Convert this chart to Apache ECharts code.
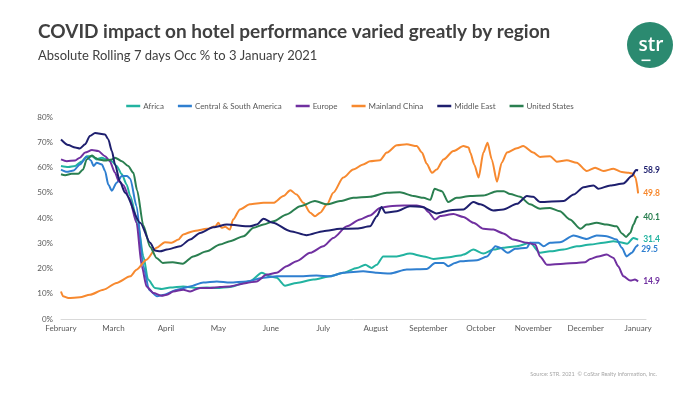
<!DOCTYPE html>
<html>
<head>
<meta charset="utf-8">
<script src="https://cdn.jsdelivr.net/npm/echarts@6/dist/echarts.min.js"></script>
<style>
html,body{margin:0;padding:0;background:#fff;}
#chart{width:700px;height:394px;}
</style>
</head>
<body>
<div id="chart"></div>
<script>
// x = months since 1 February 2020 (0 = February, 11 = January)
const months = ["February","March","April","May","June","July","August","September","October","November","December","January"];
const yTicks = [0,10,20,30,40,50,60,70,80];
const seriesNames = ["Africa","Central & South America","Europe","Mainland China","Middle East","United States"];

const africa = [[0,60.6],[0.14,60.2],[0.27,60.6],[0.4,62.5],[0.49,64.5],[0.59,64.5],[0.68,63.2],[0.78,63.9],[0.87,63.2],[0.97,62.5],[1.06,60.6],[1.16,57.3],[1.25,53.3],[1.32,48.7],[1.47,37],[1.57,24.8],[1.66,15.6],[1.79,12.3],[1.92,11.9],[2.08,12.5],[2.33,12.9],[2.59,12.3],[2.78,12.5],[2.97,12.3],[3.22,12.7],[3.6,15.0],[3.83,18.3],[3.98,16.9],[4.11,16.3],[4.27,13.2],[4.49,14.3],[4.81,15.6],[5.13,16.9],[5.38,18.3],[5.64,20.2],[5.8,21.5],[5.92,20.2],[6.02,21.5],[6.14,24.8],[6.4,24.8],[6.65,25.9],[6.91,24.8],[7.1,23.8],[7.35,24.4],[7.61,25.1],[7.67,25.5],[7.86,27.5],[8.05,25.9],[8.24,27.5],[8.43,28.2],[8.69,28.8],[8.94,30.2],[9.13,26.2],[9.32,26.8],[9.58,27.5],[9.83,28.8],[10.09,29.5],[10.34,30.2],[10.53,30.8],[10.66,30.4],[10.79,29.8],[10.91,32.1],[11.0,31.4]];

const csAmerica = [[0,59.2],[0.11,58.3],[0.24,58.8],[0.36,61.2],[0.49,64.2],[0.57,62.8],[0.62,60.6],[0.68,61.9],[0.78,61.2],[0.84,58.6],[0.9,53.3],[0.97,50.8],[1.06,54.0],[1.16,56.6],[1.26,56.6],[1.32,55.5],[1.44,44.7],[1.57,20.9],[1.68,11.5],[1.83,9.0],[1.97,9.6],[2.21,11.6],[2.46,12.9],[2.71,14.5],[2.97,14.9],[3.22,14.5],[3.54,14.9],[3.86,16.3],[4.11,16.9],[4.49,16.9],[4.87,17.2],[5.13,16.9],[5.38,18.3],[5.76,18.9],[6.02,18.3],[6.27,18.0],[6.59,19.6],[6.97,19.8],[7.13,22.2],[7.29,22.2],[7.38,20.9],[7.51,22.2],[7.61,22.9],[7.93,23.3],[8.12,24.8],[8.28,28.8],[8.37,28.2],[8.51,26.2],[8.66,27.8],[8.88,28.2],[8.94,30.2],[9.1,30.2],[9.2,28.8],[9.32,30.2],[9.51,30.4],[9.77,33.1],[10.02,31.7],[10.21,33.1],[10.4,32.8],[10.59,31.5],[10.69,28.2],[10.78,24.8],[10.88,26.2],[10.97,28.8],[11.0,29.5]];

const europe = [[0,63.2],[0.11,62.5],[0.27,62.8],[0.36,63.9],[0.46,65.9],[0.59,66.9],[0.71,66.5],[0.84,64.5],[0.93,62.5],[1.03,57.9],[1.1,54.6],[1.19,53.0],[1.3,48],[1.44,38.1],[1.54,20.9],[1.63,12.9],[1.76,10.3],[1.92,9.2],[2.02,9.6],[2.14,10.9],[2.33,11.6],[2.46,10.9],[2.65,12.3],[2.84,12.3],[3.03,12.7],[3.22,12.9],[3.54,14.3],[3.73,14.9],[3.92,17.6],[4.11,18.3],[4.3,20.9],[4.49,22.9],[4.75,26.2],[5.0,28.8],[5.19,32.1],[5.45,36.7],[5.7,39.4],[5.89,41.0],[6.08,44.0],[6.27,44.7],[6.53,45.0],[6.78,45.0],[6.91,44.4],[7.0,42.4],[7.13,39.4],[7.23,40.8],[7.48,41.6],[7.67,40.4],[7.86,38.1],[8.05,35.7],[8.24,35.4],[8.43,33.9],[8.62,31.5],[8.88,30.2],[9.04,29.5],[9.13,24.8],[9.26,21.5],[9.58,21.9],[9.83,22.2],[9.99,22.5],[10.09,23.8],[10.24,24.8],[10.4,25.5],[10.53,24.2],[10.62,20.9],[10.72,16.9],[10.85,15.2],[10.94,15.6],[11.0,14.9]];

const china = [[0,10.9],[0.04,9.0],[0.14,8.3],[0.36,8.6],[0.55,9.6],[0.81,11.6],[1.06,14.3],[1.32,16.9],[1.44,19.5],[1.63,23.5],[1.82,28.2],[1.98,30.4],[2.11,30.2],[2.24,31.5],[2.33,33.5],[2.52,34.8],[2.78,35.7],[2.94,36.7],[3.0,38.1],[3.06,36.1],[3.13,36.5],[3.22,35.4],[3.28,39.4],[3.41,43.4],[3.6,45.4],[3.86,46.0],[4.05,46.0],[4.24,48.7],[4.37,51.0],[4.49,49.3],[4.62,46.0],[4.75,42.1],[4.84,40.7],[4.94,42.1],[5.07,45.4],[5.19,50.0],[5.38,56.0],[5.57,59.2],[5.76,61.2],[5.89,62.5],[6.08,62.9],[6.21,65.9],[6.4,68.8],[6.59,69.2],[6.78,68.5],[6.88,65.9],[6.97,61.5],[7.07,57.9],[7.16,59.2],[7.29,63.2],[7.48,66.5],[7.67,68.5],[7.77,67.9],[7.8,65.9],[7.88,61.0],[7.96,56.0],[8.05,65.9],[8.13,69.8],[8.21,63.2],[8.31,54.4],[8.4,61.9],[8.5,65.9],[8.69,67.6],[8.81,68.5],[9.0,65.9],[9.13,64.2],[9.32,64.5],[9.45,62.3],[9.64,62.9],[9.83,61.9],[10.02,58.6],[10.18,59.9],[10.34,58.6],[10.53,59.5],[10.69,58.2],[10.82,57.9],[10.9,57.6],[10.95,56.0],[11.0,49.8]];

const middleEast = [[0,71.1],[0.14,68.9],[0.27,67.9],[0.36,67.5],[0.46,69.2],[0.55,72.5],[0.65,73.7],[0.84,73.1],[0.9,71.2],[0.97,66.5],[1.03,61.2],[1.12,54.6],[1.22,50.0],[1.51,38.1],[1.7,30.2],[1.79,27.1],[1.89,26.8],[2.02,27.5],[2.27,28.8],[2.46,31.5],[2.65,34.1],[2.9,36.3],[3.16,37.4],[3.6,36.7],[3.73,37.4],[3.86,39.7],[4.04,38.1],[4.37,34.8],[4.68,33.2],[5.0,34.8],[5.32,35.7],[5.64,35.8],[5.89,36.7],[6.02,40.7],[6.11,44.4],[6.18,42.1],[6.4,42.7],[6.65,44.7],[6.88,44.4],[7.16,41.8],[7.42,43.1],[7.67,43.4],[7.86,46.3],[7.99,45.4],[8.24,43.0],[8.43,43.4],[8.69,45.6],[8.88,48.7],[9.0,48.4],[9.13,46.3],[9.58,46.7],[9.77,49.3],[9.96,52.2],[10.15,52.9],[10.24,51.6],[10.47,52.9],[10.72,53.7],[10.88,56.6],[10.96,59.0],[11.0,58.9]];

const usa = [[0,57.3],[0.08,56.9],[0.2,57.5],[0.33,57.5],[0.42,59.2],[0.49,63.2],[0.59,64.8],[0.65,63.9],[0.71,63.2],[0.84,62.8],[0.97,63.2],[1.03,63.9],[1.16,62.5],[1.28,60.6],[1.38,57.9],[1.45,51.0],[1.57,37.0],[1.7,28.5],[1.82,24.2],[1.94,22.2],[2.13,22.5],[2.32,21.9],[2.52,24.8],[2.78,26.8],[3.03,29.5],[3.22,30.8],[3.48,32.8],[3.67,36.1],[3.86,37.4],[4.05,38.7],[4.3,41.4],[4.56,44.7],[4.84,46.7],[5.07,45.4],[5.32,46.7],[5.57,48.0],[5.89,48.4],[6.21,50.0],[6.46,50.2],[6.72,48.7],[6.91,48.0],[7.04,47.2],[7.12,51.6],[7.2,51.0],[7.26,50.6],[7.38,46.3],[7.54,48.0],[7.8,48.7],[8.05,48.9],[8.31,50.6],[8.44,50.6],[8.56,49.5],[8.75,48.4],[8.94,45.4],[9.13,43.7],[9.32,44.0],[9.51,42.7],[9.7,39.4],[9.9,35.7],[10.02,37.4],[10.21,38.1],[10.4,37.4],[10.59,36.7],[10.69,33.9],[10.77,32.5],[10.85,34.1],[10.91,37.4],[10.98,40.5],[11.0,40.1]];

const seriesData = [africa, csAmerica, europe, china, middleEast, usa];
const colors = ["#22b3a0","#2f7fd0","#7030a0","#f7892f","#1e1f6e","#2a7f50"];
const FONT = "Lato, 'Liberation Sans', sans-serif";

const chart = echarts.init(document.getElementById('chart'), null, {renderer:'canvas'});
const option = {
  animation: false,
  backgroundColor: '#ffffff',
  color: colors,
  textStyle: {fontFamily: FONT},
  grid: {left: 61, right: 54, top: 117, bottom: 75, containLabel: false},
  legend: {
    top: 97, left: 'center',
    itemWidth: 14, itemHeight: 2.5, itemGap: 14,
    icon: 'rect',
    textStyle: {fontSize: 8, color: '#595959', fontFamily: FONT, padding: [0,0,0,-2]},
    data: seriesNames
  },
  xAxis: {
    type: 'value', min: 0, max: 11.15, interval: 1,
    axisLine: {show: true, lineStyle: {color: '#d9d9d9', width: 1}},
    axisTick: {show: false},
    splitLine: {show: false},
    axisLabel: {
      color: '#595959', fontSize: 8, margin: 5, fontFamily: FONT,
      showMaxLabel: false,
      formatter: function (v) { return Number.isInteger(v) ? (months[v] || '') : ''; }
    }
  },
  yAxis: {
    type: 'value', min: yTicks[0], max: yTicks[yTicks.length-1], interval: 10,
    axisLine: {show: false}, axisTick: {show: false}, splitLine: {show: false},
    axisLabel: {color: '#595959', fontSize: 8, margin: 8, fontFamily: FONT, formatter: '{value}%'}
  },
  series: seriesNames.map(function (name, i) {
    return {
      name: name, type: 'line', data: seriesData[i],
      symbol: 'none', smooth: 0.25, smoothMonotone: 'x',
      lineStyle: {width: 2, color: colors[i]},
      itemStyle: {color: colors[i]},
      z: i === 4 ? 3 : 2,
      endLabel: {
        show: true, distance: 5,
        color: colors[i], fontWeight: 'bold', fontSize: 8.5, fontFamily: FONT,
        offset: name === 'Central & South America' ? [-2, 4.5] : [0, 0],
        formatter: function (p) { return p.value[1].toFixed(1); }
      }
    };
  }),
  graphic: [
    {type: 'text', left: 38, top: 22, style: {text: 'COVID impact on hotel performance varied greatly by region', font: 'bold 19px ' + FONT, fill: '#404040'}},
    {type: 'text', left: 38, top: 49, style: {text: 'Absolute Rolling 7 days Occ % to 3 January 2021', font: '13px ' + FONT, fill: '#404040'}},
    {type: 'circle', shape: {cx: 650, cy: 45, r: 23}, style: {fill: '#2b8a70'}},
    {type: 'text', x: 651, y: 46, style: {text: 'str', font: '600 19px "Open Sans", sans-serif', fill: '#ffffff', align: 'center', verticalAlign: 'middle'}},
    {type: 'rect', shape: {x: 641.5, y: 59.5, width: 9, height: 1.6}, style: {fill: '#ffffff'}},
    {type: 'text', right: 43, top: 371, style: {text: 'Source: STR. 2021  \u00A9 CoStar Realty Information, Inc.', font: '5.5px ' + FONT, fill: '#a6a6a6'}}
  ]
};
chart.setOption(option);
</script>
</body>
</html>
